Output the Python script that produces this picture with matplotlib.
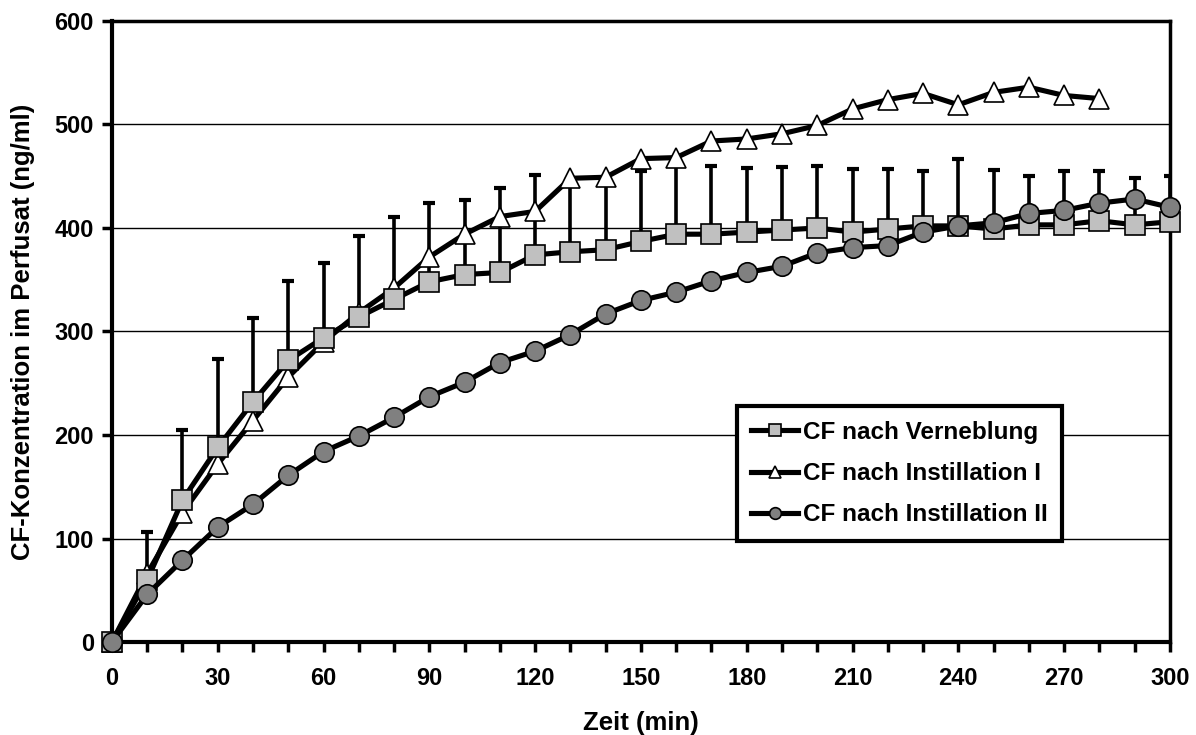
import numpy as np
import matplotlib
matplotlib.use('Agg')
import matplotlib.pyplot as plt
from matplotlib.ticker import MultipleLocator

plt.rcParams['font.family'] = ['Liberation Sans', 'DejaVu Sans']
plt.rcParams['font.weight'] = 'bold'

# time points (min)
zeit = np.arange(0, 301, 10)
zeit_instI = np.arange(0, 281, 10)

# CF nach Verneblung (mean) and upper error bar tops
verneblung = [0, 60, 137, 188, 232, 272, 294, 314, 331, 348, 355, 357, 374, 377, 379,
              387, 394, 394, 396, 398, 400, 396, 399, 402, 402, 399, 403, 403, 407, 403, 406]
verneblung_top = [0, 106, 205, 273, 313, 349, 366, 392, 411, 424, 427, 439, 451, 446, 447,
                  455, 463, 460, 458, 459, 460, 457, 457, 455, 467, 456, 450, 455, 455, 448, 450]

# CF nach Instillation I
instillation1 = [0, 66, 125, 172, 214, 256, 290, 318, 342, 372, 394, 411, 416, 448, 449,
                 467, 468, 484, 486, 491, 499, 515, 524, 530, 519, 531, 536, 528, 525]

# CF nach Instillation II
instillation2 = [0, 46, 79, 111, 133, 161, 184, 199, 217, 237, 251, 270, 281, 297, 317,
                 330, 338, 349, 357, 363, 376, 381, 383, 396, 402, 405, 414, 417, 424, 428, 420]

fig = plt.figure(figsize=(11.96, 7.35), dpi=100)
ax = fig.add_axes([0.0936, 0.1265, 0.8846, 0.845])

ax.yaxis.grid(True, color='black', linewidth=1.0)
ax.set_axisbelow(True)

# upward error bars for Verneblung
yerr_up = np.array(verneblung_top) - np.array(verneblung)
ax.errorbar(zeit, verneblung, yerr=[np.zeros_like(yerr_up), yerr_up], fmt='none',
            ecolor='black', elinewidth=2.6, capsize=4.5, capthick=3, zorder=2)

ax.plot(zeit, verneblung, color='black', linewidth=3.7, marker='s', markersize=14,
        markerfacecolor='#c0c0c0', markeredgecolor='black', markeredgewidth=1.2,
        label='CF nach Verneblung', zorder=4, clip_on=False)
ax.plot(zeit_instI, instillation1, color='black', linewidth=3.7, marker='^', markersize=14,
        markerfacecolor='white', markeredgecolor='black', markeredgewidth=1.2,
        label='CF nach Instillation I', zorder=3, clip_on=False)
ax.plot(zeit, instillation2, color='black', linewidth=3.7, marker='o', markersize=14,
        markerfacecolor='#808080', markeredgecolor='black', markeredgewidth=1.2,
        label='CF nach Instillation II', zorder=5, clip_on=False)

ax.set_xlim(0, 300)
ax.set_ylim(0, 600)
ax.xaxis.set_major_locator(MultipleLocator(30))
ax.xaxis.set_minor_locator(MultipleLocator(10))
ax.yaxis.set_major_locator(MultipleLocator(100))
ax.tick_params(axis='x', which='both', direction='out', length=7, width=2.5, labelsize=17, pad=11)
ax.tick_params(axis='y', which='major', direction='out', length=7, width=2.5, labelsize=17, pad=6)
for lab in ax.get_xticklabels() + ax.get_yticklabels():
    lab.set_fontweight('bold')

for side in ['left', 'bottom']:
    ax.spines[side].set_linewidth(3)
for side in ['top', 'right']:
    ax.spines[side].set_linewidth(2.5)

ax.set_xlabel('Zeit (min)', fontsize=18.5, fontweight='bold', labelpad=15)
ax.set_ylabel('CF-Konzentration im Perfusat (ng/ml)', fontsize=18.5, fontweight='bold', labelpad=14)

leg = ax.legend(loc='lower left', bbox_to_anchor=(0.5907, 0.1626), fontsize=17.5, frameon=True,
                fancybox=False, edgecolor='black', framealpha=1, handlelength=1.9,
                handletextpad=0.2, borderpad=0.6, labelspacing=0.75, markerscale=0.6,
                borderaxespad=0)
leg.get_frame().set_linewidth(3)
for t in leg.get_texts():
    t.set_fontweight('bold')

plt.savefig('out.png', dpi=100)
